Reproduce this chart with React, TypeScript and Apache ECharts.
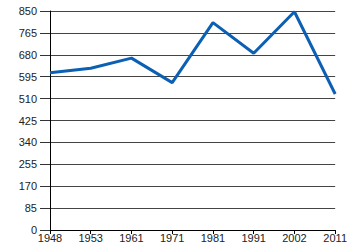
import React, { useEffect, useRef } from "react";
import * as echarts from "echarts";

const years = ["1948", "1953", "1961", "1971", "1981", "1991", "2002", "2011"];
const values = [610, 628, 667, 572, 805, 686, 847, 528];
const yTicks = [0, 85, 170, 255, 340, 425, 510, 595, 680, 765, 850];

export default function App() {
  const ref = useRef<HTMLDivElement>(null);
  useEffect(() => {
    const chart = echarts.init(ref.current!, null, { renderer: "svg" });
    chart.setOption({
      animation: false,
      backgroundColor: "#ffffff",
      grid: { left: 50, right: 14, top: 11, bottom: 20, containLabel: false },
      xAxis: {
        type: "category",
        data: years,
        boundaryGap: false,
        axisLine: { lineStyle: { color: "#000", width: 1 } },
        axisTick: { show: true, length: 4, inside: false, lineStyle: { color: "#000" } },
        axisLabel: {
          color: "#222",
          fontFamily: "Liberation Sans, Arial, sans-serif",
          fontSize: 11,
          margin: 2,
          interval: 0,
        },
        splitLine: { show: false },
      },
      yAxis: {
        type: "value",
        min: yTicks[0],
        max: yTicks[yTicks.length - 1],
        interval: 85,
        axisLine: { show: true, lineStyle: { color: "#000", width: 1 } },
        axisTick: { show: true, length: 10, lineStyle: { color: "#333" } },
        axisLabel: {
          color: "#222",
          fontFamily: "Liberation Sans, Arial, sans-serif",
          fontSize: 11,
          margin: 13,
        },
        splitLine: { show: true, lineStyle: { color: "#444", width: 1 } },
      },
      series: [
        {
          type: "line",
          data: values,
          symbol: "none",
          lineStyle: { color: "#0b60b4", width: 3 },
        },
      ],
    });
    return () => chart.dispose();
  }, []);
  return (
    <div
      ref={ref}
      style={{ position: "fixed", left: 0, top: 0, width: 350, height: 250 }}
    />
  );
}
